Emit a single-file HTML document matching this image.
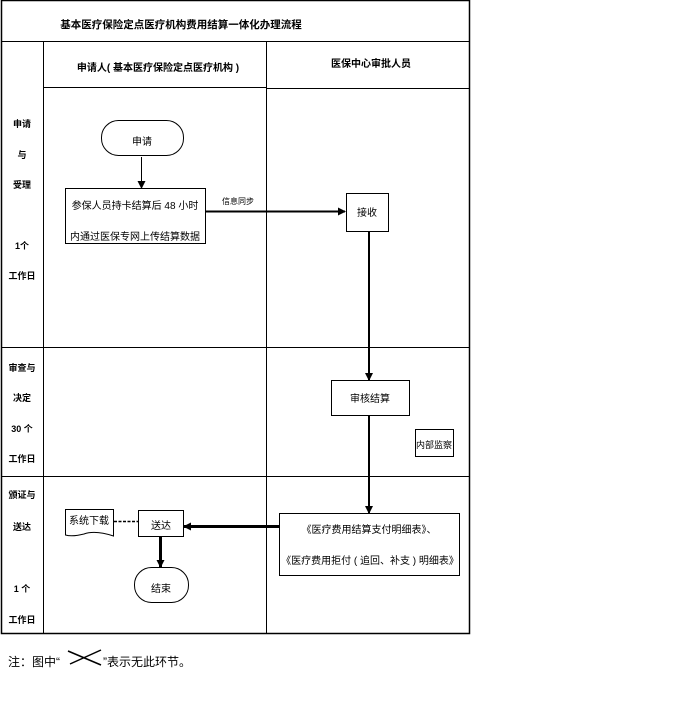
<!DOCTYPE html>
<html><head><meta charset="utf-8"><style>
html,body{margin:0;padding:0;background:#fff;}
svg{display:block;}
text{font-family:"Liberation Sans","Noto Sans CJK SC",sans-serif;fill:#000;}
.b{font-weight:bold;font-size:10px;}
.n{font-size:11px;}
</style></head><body>
<svg width="676" height="707" viewBox="0 0 676 707" xmlns="http://www.w3.org/2000/svg">
<defs><marker id="a" markerWidth="8" markerHeight="8" refX="7" refY="4" orient="auto" markerUnits="userSpaceOnUse"><path d="M0,0 L8,4 L0,8 z" fill="#000"/></marker></defs>
<g stroke="#000" fill="none">
<rect x="1.5" y="0.5" width="468" height="633" stroke-width="1.5"/>
<line x1="1" y1="41.5" x2="470" y2="41.5"/>
<line x1="43.5" y1="41" x2="43.5" y2="634"/>
<line x1="266.5" y1="41" x2="266.5" y2="634"/>
<line x1="43" y1="87.5" x2="266" y2="87.5"/>
<line x1="266" y1="88.5" x2="470" y2="88.5"/>
<line x1="1" y1="347.5" x2="470" y2="347.5"/>
<line x1="1" y1="476.5" x2="470" y2="476.5"/>
<rect x="101.5" y="120.5" width="82" height="35" rx="17"/>
<line x1="141.5" y1="157" x2="141.5" y2="188" marker-end="url(#a)"/>
<rect x="65.5" y="188.5" width="140" height="55"/>
<line x1="205" y1="211.5" x2="345" y2="211.5" stroke-width="2" marker-end="url(#a)"/>
<rect x="346.5" y="193.5" width="42" height="38"/>
<line x1="369" y1="231" x2="369" y2="380" stroke-width="2" marker-end="url(#a)"/>
<rect x="331.5" y="380.5" width="78" height="35"/>
<line x1="369" y1="415" x2="369" y2="513" stroke-width="2" marker-end="url(#a)"/>
<rect x="415.5" y="429.5" width="38" height="27"/>
<rect x="279.5" y="513.5" width="180" height="62"/>
<line x1="279" y1="526.5" x2="184" y2="526.5" stroke-width="3" marker-end="url(#a)"/>
<rect x="138.5" y="510.5" width="45" height="26"/>
<path d="M65.5,509.5 H113.5 V536 Q95,530 84,534 Q72,537 65.5,535 Z"/>
<line x1="114" y1="521.5" x2="138" y2="521.5" stroke-dasharray="3,1.5" stroke-width="1.5"/>
<line x1="160.5" y1="536" x2="160.5" y2="567" stroke-width="3" marker-end="url(#a)"/>
<rect x="134.5" y="567.5" width="54" height="35" rx="17"/>
<path d="M70,664 L101,650 M68,651 L101,665" stroke-width="1.5"/>
</g>
<text x="181" y="28" text-anchor="middle" style="font-weight:bold;font-size:10.5px">基本医疗保险定点医疗机构费用结算一体化办理流程</text>
<text class="b" x="158" y="71" text-anchor="middle">申请人( 基本医疗保险定点医疗机构 )</text>
<text class="b" x="371" y="67" text-anchor="middle">医保中心审批人员</text>
<g class="b" text-anchor="middle" style="font-size:9px">
<text x="22" y="127">申请</text><text x="22" y="158">与</text><text x="22" y="188">受理</text>
<text x="22" y="249">1个</text><text x="22" y="279">工作日</text>
<text x="22" y="371">审查与</text><text x="22" y="401">决定</text><text x="22" y="432">30 个</text><text x="22" y="462">工作日</text>
<text x="22" y="498">颁证与</text><text x="22" y="530">送达</text><text x="22" y="592">1 个</text><text x="22" y="623">工作日</text>
</g>
<g class="n" text-anchor="middle" style="font-size:10px">
<text x="142" y="145">申请</text>
<text x="135" y="209">参保人员持卡结算后 48 小时</text>
<text x="135" y="240">内通过医保专网上传结算数据</text>
<text x="367" y="216">接收</text>
<text x="370" y="402">审核结算</text>
<text x="434" y="448" style="font-size:9px">内部监察</text>
<text x="369" y="533">《医疗费用结算支付明细表》、</text>
<text x="370" y="564">《医疗费用拒付 ( 追回、补支 ) 明细表》</text>
<text x="161" y="529">送达</text>
<text x="89" y="524">系统下载</text>
<text x="161" y="592">结束</text>
<text x="238" y="204" style="font-size:8px">信息同步</text>
</g>
<text x="8" y="666" style="font-size:12px">注：图中“</text>
<text x="103" y="666" style="font-size:12px">”表示无此环节。</text>
</svg>
</body></html>
